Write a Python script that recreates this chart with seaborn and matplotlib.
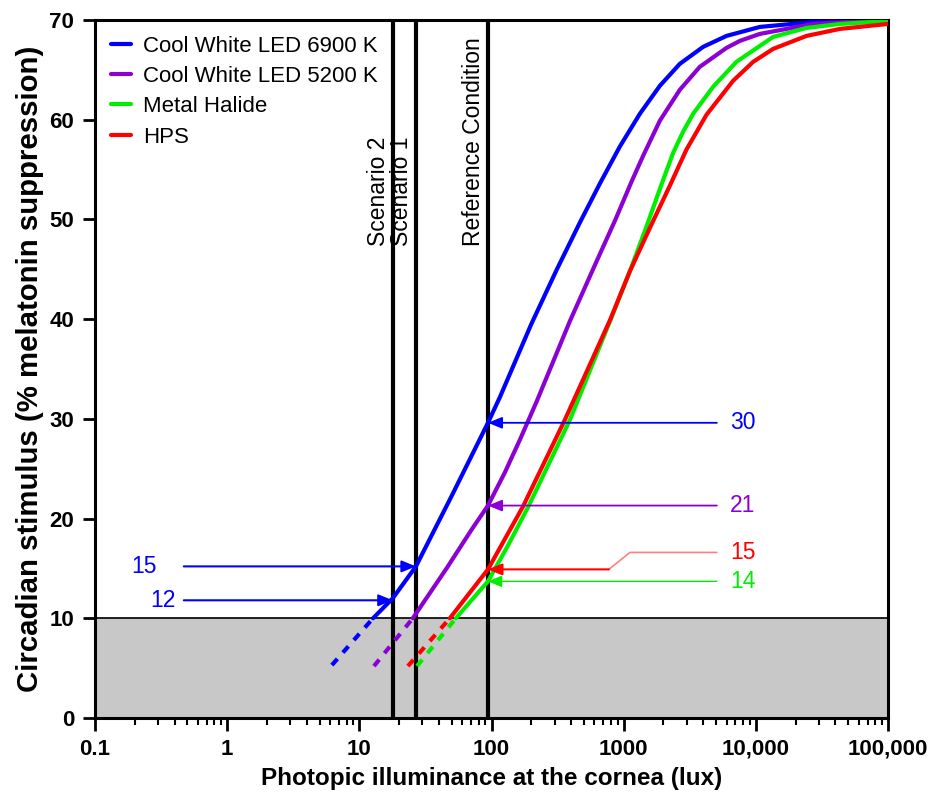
import numpy as np
import pandas as pd
import matplotlib
matplotlib.use("Agg")
import matplotlib.pyplot as plt
import seaborn as sns
from matplotlib.ticker import FixedLocator, LogLocator, NullFormatter

# light sources and colours
sources = ["Cool White LED 6900 K", "Cool White LED 5200 K", "Metal Halide", "HPS"]
colors = ["#0000FF", "#8C00D4", "#00EE00", "#FF0000"]

# solid part of each curve (lux, circadian stimulus)
led69_lux = [12.7, 17.9, 26.8, 50.1, 94, 116, 200, 310, 467, 661, 935, 1327, 1879, 2661,
             3990, 6000, 10715, 27160, 100000]
led69_cs = [10, 12, 15.2, 22.3, 29.6, 32.2, 39.5, 44.9, 49.7, 53.6, 57.3, 60.6, 63.4, 65.6,
            67.3, 68.4, 69.3, 69.8, 70.0]
led52_lux = [25.4, 45.7, 70.8, 94, 126, 164, 219, 392, 624, 861, 1148, 1406, 1879, 2661,
             3767, 6000, 7568, 10715, 27160, 100000]
led52_cs = [10, 15.0, 18.9, 21.3, 24.6, 27.9, 31.7, 39.8, 45.8, 49.9, 53.8, 56.4, 59.9, 63.0,
            65.3, 67.2, 67.9, 68.6, 69.6, 70.0]
mh_lux = [53.7, 94, 132, 190, 392, 562, 794, 1114, 1489, 1932, 2371, 2818, 3357, 4753,
          7129, 13521, 24155, 43152, 100000]
mh_cs = [10, 13.7, 17.2, 21.2, 29.9, 35.0, 39.9, 44.8, 49.3, 53.5, 56.7, 58.8, 60.6, 63.3,
         65.8, 68.3, 69.2, 69.6, 69.9]
hps_lux = [48.4, 94, 173, 359, 562, 794, 1114, 1585, 2239, 2985, 4236, 6730, 9550, 13521,
           24155, 43152, 100000]
hps_cs = [10, 14.9, 21.2, 29.9, 35.6, 40.0, 44.8, 49.2, 53.4, 57.0, 60.5, 63.9, 65.8, 67.1,
          68.4, 69.1, 69.6]

# dashed extrapolation below CS = 10
dash_lux = [[6.2, 12.7], [12.9, 25.4], [27.3, 53.7], [23.3, 48.4]]
dash_cs = [[5.3, 10], [5.2, 10], [5.2, 10], [5.2, 10]]

# vertical reference lines
ref_lux = [17.9, 26.8, 94]
ref_labels = ["Scenario 2", "Scenario 1", "Reference Condition"]

# values read at the reference condition (6900 K, 5200 K, HPS, MH)
ref_values = ["30", "21", "15", "14"]
ref_cs = [29.6, 21.3, 14.9, 13.7]
ref_colors = [colors[0], colors[1], colors[3], colors[2]]
# values read for the 6900 K LED at the two scenarios
scen_values = ["15", "12"]
scen_cs = [15.2, 11.8]

curves = [(led69_lux, led69_cs), (led52_lux, led52_cs), (mh_lux, mh_cs), (hps_lux, hps_cs)]
df = pd.concat([pd.DataFrame({"source": s, "lux": c[0], "cs": c[1]})
                for s, c in zip(sources, curves)], ignore_index=True)
df_dash = pd.concat([pd.DataFrame({"source": s, "lux": x, "cs": y})
                     for s, x, y in zip(sources, dash_lux, dash_cs)], ignore_index=True)
palette = dict(zip(sources, colors))

sns.set_style("ticks")
plt.rcParams["font.family"] = ["Liberation Sans", "DejaVu Sans"]
plt.rcParams.update({"text.color": "black", "axes.labelcolor": "black",
                     "xtick.color": "black", "ytick.color": "black"})

fig = plt.figure(figsize=(9.33, 7.98), dpi=100)
ax = fig.add_axes([0.1018, 0.1003, 0.85, 0.8747])
ax.set_xscale("log")

ax.axhspan(0, 10, color="#C8C8C8", zorder=0)
ax.axhline(10, color="black", lw=1.2, zorder=1)
for x in ref_lux:
    ax.axvline(x, color="black", lw=3, zorder=2)

sns.lineplot(data=df, x="lux", y="cs", hue="source", palette=palette, hue_order=sources,
             estimator=None, sort=False, lw=3, ax=ax, zorder=3)
sns.lineplot(data=df_dash, x="lux", y="cs", hue="source", palette=palette, hue_order=sources,
             estimator=None, sort=False, lw=3, linestyle=(0, (2, 2)), legend=False, ax=ax, zorder=3)

# vertical line labels
for x, lab in zip(ref_lux, ref_labels):
    ax.annotate(lab, xy=(x, 47.3), xytext=(-2, 0), textcoords="offset points",
                rotation=90, ha="right", va="bottom", fontsize=16.5, color="black")

# arrows at the reference condition
head = dict(arrowstyle="-|>,head_length=0.85,head_width=0.35", shrinkA=0, shrinkB=0)
for i in [0, 1, 3]:
    ax.annotate("", xy=(ref_lux[2], ref_cs[i]), xytext=(5070, ref_cs[i]),
                arrowprops=dict(color=ref_colors[i], lw=1.3 if i != 3 else 1.0, **head), zorder=4)
for i, yl in zip(range(4), [ref_cs[0], ref_cs[1], 16.6, ref_cs[3]]):
    ax.text(6350, yl, ref_values[i], color=ref_colors[i], fontsize=16.5, ha="left", va="center")
# red leader with a kink
ax.plot([5070, 1114, 773], [16.6, 16.6, ref_cs[2]], color="#FF8080", lw=1.2, zorder=4)
ax.annotate("", xy=(ref_lux[2], ref_cs[2]), xytext=(773, ref_cs[2]),
            arrowprops=dict(color=ref_colors[2], lw=1.5, **head), zorder=4)

# arrows at the two scenarios
for x, yv, lab, tx in zip(ref_lux[::-1][1:], scen_cs, scen_values, [0.235, 0.327]):
    ax.annotate("", xy=(x, yv), xytext=(0.47, yv),
                arrowprops=dict(color=colors[0], lw=1.5, **head), zorder=4)
    ax.text(tx, yv, lab, color=colors[0], fontsize=16.5, ha="center", va="center")

ax.set_xlim(0.1, 100000)
ax.set_ylim(0, 70)
ax.xaxis.set_major_locator(FixedLocator([0.1, 1, 10, 100, 1000, 10000, 100000]))
ax.set_xticklabels(["0.1", "1", "10", "100", "1000", "10,000", "100,000"])
ax.xaxis.set_minor_locator(LogLocator(base=10, subs=np.arange(2, 10)))
ax.xaxis.set_minor_formatter(NullFormatter())
ax.set_yticks(range(0, 71, 10))
ax.tick_params(axis="both", which="major", direction="out", length=9, width=2,
               labelsize=16, pad=6, colors="black")
ax.tick_params(axis="x", which="minor", direction="out", length=5, width=1.5, colors="black")
for lab in ax.get_xticklabels() + ax.get_yticklabels():
    lab.set_fontweight("bold")
for sp in ax.spines.values():
    sp.set_linewidth(2.2)
    sp.set_color("black")

ax.set_xlabel("Photopic illuminance at the cornea (lux)", fontsize=17.5, fontweight="bold",
              labelpad=5)
ax.set_ylabel("Circadian stimulus (% melatonin suppression)", fontsize=21.2,
              fontweight="bold", labelpad=4)

sns.move_legend(ax, "upper left", bbox_to_anchor=(0.0, 1.0), title=None, frameon=False,
                fontsize=16, handlelength=0.9, handletextpad=0.55, labelspacing=0.42,
                borderaxespad=0.3)
leg = ax.get_legend()
for h in leg.get_lines():
    h.set_linewidth(3)
for t in leg.get_texts():
    t.set_color("black")

fig.savefig("out.png", dpi=100)
